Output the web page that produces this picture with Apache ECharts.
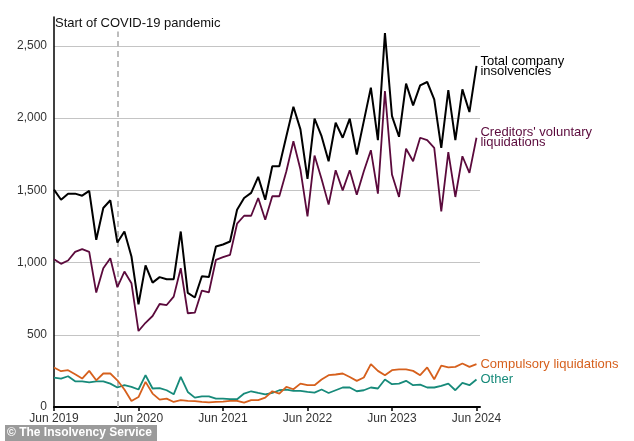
<!DOCTYPE html>
<html>
<head>
<meta charset="utf-8">
<script src="https://cdn.jsdelivr.net/npm/echarts@6/dist/echarts.min.js"></script>
<style>
html,body{margin:0;padding:0;background:#fff;}
#chart{width:634px;height:441px;}
</style>
</head>
<body>
<div id="chart"></div>
<script>
// Monthly index: 0 = Jun 2019 ... 60 = Jun 2024
const startYear = 2019;
const yearTicks = [0, 12, 24, 36, 48, 60];
const yTicks = [0, 500, 1000, 1500, 2000, 2500];
const covidMonth = 9; // Mar 2020

const totalInsolvencies = [1505, 1435, 1477, 1477, 1463, 1496, 1158, 1378, 1431, 1139, 1215, 1042, 711, 980, 861, 899, 885, 885, 1215, 790, 758, 905, 900, 1111, 1125, 1146, 1366, 1447, 1482, 1593, 1435, 1667, 1667, 1875, 2079, 1922, 1579, 1996, 1875, 1701, 1968, 1864, 1996, 1748, 1979, 2211, 1847, 2588, 2014, 1871, 2239, 2088, 2227, 2250, 2130, 1794, 2194, 1847, 2199, 2042, 2361];
const creditorsVoluntary = [1023, 991, 1014, 1074, 1093, 1074, 792, 961, 1030, 829, 938, 857, 526, 583, 630, 713, 706, 764, 961, 649, 653, 806, 794, 1019, 1037, 1053, 1269, 1324, 1324, 1447, 1297, 1459, 1459, 1632, 1840, 1644, 1319, 1741, 1579, 1401, 1639, 1500, 1639, 1470, 1632, 1778, 1477, 2188, 1609, 1454, 1788, 1701, 1864, 1847, 1794, 1354, 1764, 1454, 1736, 1621, 1864];
const compulsory = [274, 248, 255, 227, 197, 250, 185, 232, 232, 185, 121, 42, 69, 174, 93, 51, 58, 35, 47, 42, 40, 35, 32, 35, 37, 42, 42, 30, 47, 47, 65, 109, 93, 139, 123, 162, 151, 151, 190, 220, 225, 232, 208, 181, 204, 297, 250, 220, 255, 260, 260, 250, 220, 274, 192, 287, 274, 278, 301, 278, 297];
const other = [204, 197, 213, 178, 178, 171, 178, 178, 162, 135, 151, 139, 121, 220, 128, 131, 116, 88, 208, 104, 65, 74, 74, 58, 58, 54, 54, 93, 109, 97, 88, 97, 116, 121, 112, 112, 104, 100, 121, 97, 116, 135, 135, 109, 116, 135, 128, 190, 158, 162, 181, 151, 155, 135, 135, 146, 162, 116, 167, 151, 190];

const seriesNames = ['Total company\ninsolvencies', "Creditors' voluntary\nliquidations", 'Compulsory liquidations', 'Other'];
const seriesColors = ['#000000', '#5b0a3c', '#d6601d', '#178a7a'];
const seriesData = [totalInsolvencies, creditorsVoluntary, compulsory, other];

const FONT = '"Liberation Sans", Arial, sans-serif';

function pairs(arr) { return arr.map((v, i) => [i, v]); }

const series = seriesData.map((d, k) => ({
  type: 'line',
  name: seriesNames[k],
  data: pairs(d),
  symbol: 'none',
  clip: false,
  z: 10 - k,
  lineStyle: { color: seriesColors[k], width: k === 0 ? 2 : 1.8 },
  itemStyle: { color: seriesColors[k] },
  endLabel: {
    show: true,
    formatter: seriesNames[k],
    color: seriesColors[k],
    fontFamily: FONT,
    fontSize: 13,
    lineHeight: k < 2 ? 10 : 14,
    distance: 4
  },
  emphasis: { disabled: true }
}));

series[0].markLine = {
  silent: true,
  symbol: 'none',
  label: { show: false },
  lineStyle: { color: '#bdbdbd', type: [6, 4], width: 2 },
  data: [[{ coord: [covidMonth, 0] }, { coord: [covidMonth, 2600] }]]
};

const chart = echarts.init(document.getElementById('chart'));
chart.setOption({
  animation: false,
  backgroundColor: '#ffffff',
  grid: { left: 54, right: 154, top: 17, bottom: 34 },
  xAxis: {
    type: 'value',
    min: 0,
    max: 60.5,
    interval: 12,
    axisLine: { show: true, lineStyle: { color: '#000', width: 2 } },
    axisTick: { show: true, length: 4, lineStyle: { color: '#000', width: 1.5 }, customValues: yearTicks },
    axisLabel: {
      customValues: yearTicks,
      color: '#333', fontFamily: FONT, fontSize: 12, margin: 6,
      formatter: v => 'Jun ' + (startYear + Math.round(v / 12))
    },
    splitLine: { show: false }
  },
  yAxis: {
    type: 'value',
    min: 0,
    max: 2700,
    interval: 500,
    axisLine: { show: true, lineStyle: { color: '#000', width: 1.5 } },
    axisTick: { show: false },
    axisLabel: {
      customValues: yTicks,
      color: '#333', fontFamily: FONT, fontSize: 12, margin: 7,
      formatter: v => v.toLocaleString('en-US')
    },
    splitLine: { show: true, showMaxLine: false, showMinLine: false, lineStyle: { color: '#c4c4c4', width: 1 } }
  },
  series: series,
  graphic: [
    {
      type: 'text', left: 55, top: 17,
      style: { text: 'Start of COVID-19 pandemic', fill: '#111', font: '13px ' + FONT }
    },
    {
      type: 'rect', left: 5, top: 425,
      shape: { width: 152, height: 16 },
      style: { fill: '#9b9b9b' }
    },
    {
      type: 'text', left: 7, top: 427,
      style: { text: '© The Insolvency Service', fill: '#ffffff', font: 'bold 12px ' + FONT }
    }
  ]
});
</script>
</body>
</html>
